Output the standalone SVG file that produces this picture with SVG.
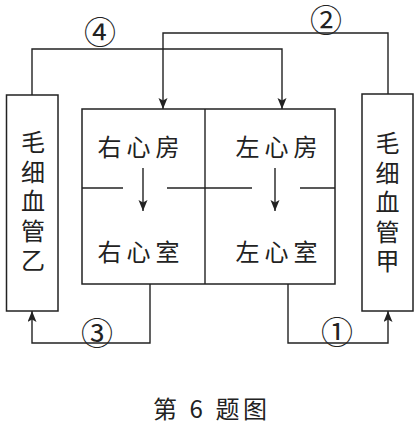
<svg xmlns="http://www.w3.org/2000/svg" width="419" height="426" viewBox="0 0 419 426">
<style>
.box{fill:none;stroke:#222;stroke-width:1.5}
.ln{fill:none;stroke:#222;stroke-width:1.4}
.cn{fill:none;stroke:#222;stroke-width:1.4;marker-end:url(#ah)}
.t{font-family:"Noto Sans CJK SC","Noto Sans",sans-serif;font-size:24px;fill:#222;text-anchor:middle;dominant-baseline:central}
.v{font-family:"Noto Sans CJK SC","Noto Sans",sans-serif;font-size:24px;fill:#222;writing-mode:vertical-rl;text-anchor:start;letter-spacing:5.5px}
.num{font-family:"Noto Sans CJK SC","Noto Sans",sans-serif;font-size:32px;fill:#222;text-anchor:middle;dominant-baseline:central}
</style>
<defs>
<marker id="ah" markerUnits="userSpaceOnUse" markerWidth="12" markerHeight="10" refX="11" refY="4.5" orient="auto">
<path d="M0,0 L11,4.5 L0,9 L2.5,4.5 z" fill="#222"/>
</marker>
</defs>
<rect width="419" height="426" fill="#fff"/>
<g id="capillary-yi">
<rect class="box" x="6.5" y="95" width="51.5" height="216"/>
<text class="v" x="33" y="130">毛细血管乙</text>
</g>
<g id="capillary-jia">
<rect class="box" x="362" y="94" width="51" height="217"/>
<text class="v" x="387.5" y="131">毛细血管甲</text>
</g>
<g id="heart">
<rect class="box" x="82" y="109" width="253" height="175"/>
<line class="ln" x1="205" y1="109" x2="205" y2="284"/>
<line class="ln" x1="82" y1="188" x2="123" y2="188"/>
<line class="ln" x1="167" y1="188" x2="205" y2="188"/>
<line class="ln" x1="205" y1="188" x2="252" y2="188"/>
<line class="ln" x1="300" y1="188" x2="335" y2="188"/>
</g>
<g id="right-atrium"><text class="t" x="141" y="145" letter-spacing="5">右心房</text></g>
<g id="right-ventricle"><text class="t" x="141" y="250" letter-spacing="5">右心室</text></g>
<g id="left-atrium"><text class="t" x="279" y="145" letter-spacing="5">左心房</text></g>
<g id="left-ventricle"><text class="t" x="279" y="250" letter-spacing="5">左心室</text></g>
<g id="connectors">
<path class="cn" d="M143,168 V211"/>
<path class="cn" d="M275,168 V211"/>
<path class="cn" d="M32,95 V49 H282 V109"/>
<path class="cn" d="M388,94 V33 H163 V109"/>
<path class="cn" d="M150,284 V343 H32 V311"/>
<path class="cn" d="M288,284 V343 H388 V311"/>
<text class="num" x="100" y="30">④</text>
<text class="num" x="326" y="18">②</text>
<text class="num" x="97" y="331">③</text>
<text class="num" x="337" y="330">①</text>
</g>
<text class="t" x="210" y="407" textLength="114" lengthAdjust="spacing">第 6 题图</text>
</svg>
